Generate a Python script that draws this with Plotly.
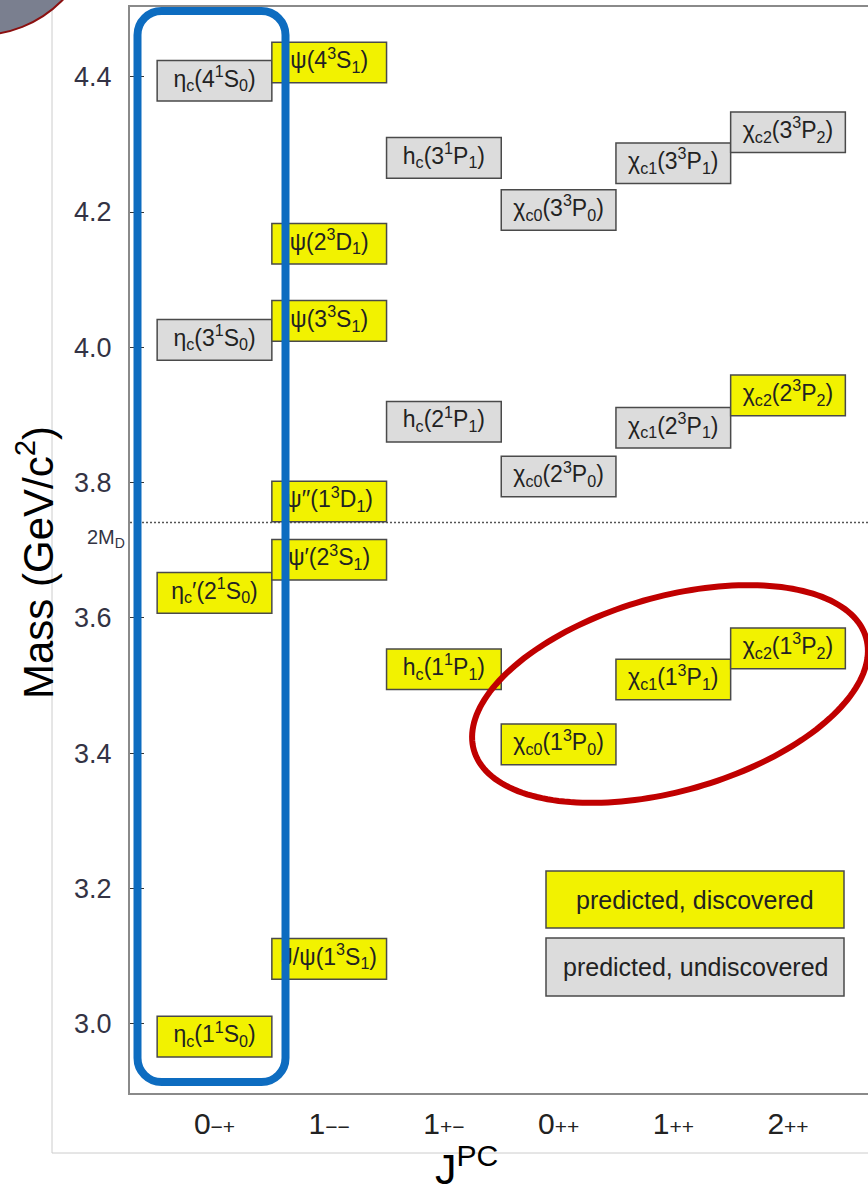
import numpy as np
import plotly.graph_objects as go

# ---------------- data ----------------
jpc_labels = [
    "0<span style='font-size:21px'>−+</span>",
    "1<span style='font-size:21px'>−−</span>",
    "1<span style='font-size:21px'>+−</span>",
    "0<span style='font-size:21px'>++</span>",
    "1<span style='font-size:21px'>++</span>",
    "2<span style='font-size:21px'>++</span>",
]

state_labels = [
    "η<sub>c</sub>(1<sup>1</sup>S<sub>0</sub>)",
    "η<sub>c</sub>′(2<sup>1</sup>S<sub>0</sub>)",
    "η<sub>c</sub>(3<sup>1</sup>S<sub>0</sub>)",
    "η<sub>c</sub>(4<sup>1</sup>S<sub>0</sub>)",
    "J/ψ(1<sup>3</sup>S<sub>1</sub>)",
    "ψ′(2<sup>3</sup>S<sub>1</sub>)",
    "ψ′′(1<sup>3</sup>D<sub>1</sub>)",
    "ψ(3<sup>3</sup>S<sub>1</sub>)",
    "ψ(2<sup>3</sup>D<sub>1</sub>)",
    "ψ(4<sup>3</sup>S<sub>1</sub>)",
    "h<sub>c</sub>(1<sup>1</sup>P<sub>1</sub>)",
    "h<sub>c</sub>(2<sup>1</sup>P<sub>1</sub>)",
    "h<sub>c</sub>(3<sup>1</sup>P<sub>1</sub>)",
    "χ<sub>c0</sub>(1<sup>3</sup>P<sub>0</sub>)",
    "χ<sub>c0</sub>(2<sup>3</sup>P<sub>0</sub>)",
    "χ<sub>c0</sub>(3<sup>3</sup>P<sub>0</sub>)",
    "χ<sub>c1</sub>(1<sup>3</sup>P<sub>1</sub>)",
    "χ<sub>c1</sub>(2<sup>3</sup>P<sub>1</sub>)",
    "χ<sub>c1</sub>(3<sup>3</sup>P<sub>1</sub>)",
    "χ<sub>c2</sub>(1<sup>3</sup>P<sub>2</sub>)",
    "χ<sub>c2</sub>(2<sup>3</sup>P<sub>2</sub>)",
    "χ<sub>c2</sub>(3<sup>3</sup>P<sub>2</sub>)",
]
state_jpc = [0, 0, 0, 0, 1, 1, 1, 1, 1, 1, 2, 2, 2, 3, 3, 3, 4, 4, 4, 5, 5, 5]
state_mass = [2.981, 3.637, 4.011, 4.394,
              3.096, 3.686, 3.772, 4.039, 4.153, 4.421,
              3.524, 3.890, 4.280,
              3.413, 3.809, 4.203,
              3.509, 3.881, 4.272,
              3.555, 3.929, 4.318]
state_found = [True, True, False, False,
               True, True, True, True, True, True,
               True, False, False,
               True, False, False,
               True, False, False,
               True, True, False]

mass_ticks = [3.0, 3.2, 3.4, 3.6, 3.8, 4.0, 4.2, 4.4]
two_md = 3.741
legend_labels = ["predicted, discovered", "predicted, undiscovered"]

# ---------------- styling / geometry ----------------
W, H = 868, 1191
ML, MR, MT, MB = 130, 0, 7, 98
PW, PH = W - ML - MR, H - MT - MB
X0_PX, X_STEP = 214.5, 114.7          # pixel centre of column 0, column spacing
Y44_PX, Y_SCALE = 76.7, 676.5         # pixel of 4.4 GeV, px per GeV

xr = [(ML - X0_PX) / X_STEP, (W - MR - X0_PX) / X_STEP]
yr = [4.4 - (H - MB - Y44_PX) / Y_SCALE, 4.4 + (Y44_PX - MT) / Y_SCALE]


def dx(px):
    return (px - X0_PX) / X_STEP


def dy(py):
    return 4.4 - (py - Y44_PX) / Y_SCALE


def paper_x(px):
    return (px - ML) / PW


def paper_y(py):
    return (H - MB - py) / PH


YELLOW = "#f2f200"
GREY = "#dcdcdc"
EDGE = "#4a4a4a"
FONT = "Liberation Sans, Arial, sans-serif"
BOX_H = 0.06

fig = go.Figure()

fig.add_trace(go.Bar(
    x=state_jpc,
    y=[BOX_H] * len(state_mass),
    base=[m - BOX_H / 2 for m in state_mass],
    width=1.0,
    marker=dict(color=[YELLOW if f else GREY for f in state_found],
                line=dict(color=EDGE, width=1.5)),
    hoverinfo="skip",
    showlegend=False,
))

fig.add_trace(go.Scatter(
    x=state_jpc, y=state_mass, mode="text", text=state_labels,
    textposition="middle center",
    textfont=dict(family=FONT, size=23, color="#222222"),
    hoverinfo="skip", showlegend=False,
))

shapes = []
# outer slide frame lines
shapes.append(dict(type="line", xref="paper", yref="paper",
                   x0=paper_x(52), x1=paper_x(52), y0=paper_y(0), y1=paper_y(1153),
                   line=dict(color="#cccccc", width=1), layer="above"))
shapes.append(dict(type="line", xref="paper", yref="paper",
                   x0=paper_x(52), x1=paper_x(W), y0=paper_y(1153), y1=paper_y(1153),
                   line=dict(color="#cccccc", width=1), layer="above"))
# corner decoration circle
shapes.append(dict(type="circle", xref="paper", yref="paper",
                   x0=paper_x(-135), x1=paper_x(95), y0=paper_y(-195), y1=paper_y(35),
                   fillcolor="#7a7f8f", line=dict(color="#8b1010", width=2), layer="above"))
# 2M_D threshold line
shapes.append(dict(type="line", xref="paper", yref="y",
                   x0=0, x1=1, y0=two_md, y1=two_md,
                   line=dict(color="#555555", width=1.3, dash="2px,2px"), layer="below"))

# legend boxes
leg_rows = [(871, 928, YELLOW), (938, 996, GREY)]
annotations = []
for (t, b, c), lab in zip(leg_rows, legend_labels):
    shapes.append(dict(type="rect", xref="x", yref="y",
                       x0=dx(546), x1=dx(844), y0=dy(b), y1=dy(t),
                       fillcolor=c, line=dict(color=EDGE, width=1.5), layer="below"))
    annotations.append(dict(xref="x", yref="y", x=dx(695), y=dy((t + b) / 2),
                            xanchor="center", yanchor="middle",
                            text=lab, showarrow=False,
                            font=dict(family=FONT, size=25, color="#222222")))

# blue rounded rectangle (pixel geometry -> data)
bl, br, bt, bb, rr = 137.5, 285.5, 11, 1082, 24
k = 0.5523 * rr
pts = [
    ("M", [(bl + rr, bt)]),
    ("L", [(br - rr, bt)]),
    ("C", [(br - rr + k, bt), (br, bt + rr - k), (br, bt + rr)]),
    ("L", [(br, bb - rr)]),
    ("C", [(br, bb - rr + k), (br - rr + k, bb), (br - rr, bb)]),
    ("L", [(bl + rr, bb)]),
    ("C", [(bl + rr - k, bb), (bl, bb - rr + k), (bl, bb - rr)]),
    ("L", [(bl, bt + rr)]),
    ("C", [(bl, bt + rr - k), (bl + rr - k, bt), (bl + rr, bt)]),
]
path = ""
for cmd, ps in pts:
    path += cmd + " ".join(f"{dx(px):.5f},{dy(py):.5f}" for px, py in ps) + " "
path += "Z"
shapes.append(dict(type="path", xref="x", yref="y", path=path,
                   line=dict(color="#0d6cc0", width=8), layer="above"))

# red ellipse
cx, cy, ea, eb, th = 670, 694, 204, 97, np.deg2rad(16)
t = np.linspace(0, 2 * np.pi, 181)
epx = cx + ea * np.cos(t) * np.cos(th) - eb * np.sin(t) * np.sin(th)
epy = cy - (ea * np.cos(t) * np.sin(th) + eb * np.sin(t) * np.cos(th))
epath = "M" + " L".join(f"{dx(a):.5f},{dy(b):.5f}" for a, b in zip(epx, epy)) + " Z"
shapes.append(dict(type="path", xref="x", yref="y", path=epath,
                   line=dict(color="#c00000", width=6), layer="above"))

# text annotations
annotations.append(dict(xref="paper", yref="y", x=paper_x(127), y=3.718,
                        xanchor="right", yanchor="middle", text="2M<sub>D</sub>",
                        showarrow=False, font=dict(family=FONT, size=20, color="#333344")))
annotations.append(dict(xref="paper", yref="paper", x=paper_x(35), y=paper_y(563),
                        xanchor="center", yanchor="middle",
                        text="Mass (GeV/c<sup>2</sup>)", textangle=-90, showarrow=False,
                        font=dict(family=FONT, size=42, color="#000000")))
annotations.append(dict(xref="paper", yref="paper", x=paper_x(466), y=paper_y(1166),
                        xanchor="center", yanchor="middle",
                        text="J<sup>PC</sup>", showarrow=False,
                        font=dict(family=FONT, size=43, color="#000000")))

fig.update_layout(
    width=W, height=H,
    margin=dict(l=ML, r=MR, t=MT, b=MB, pad=0),
    paper_bgcolor="white", plot_bgcolor="white",
    showlegend=False,
    shapes=shapes, annotations=annotations,
    xaxis=dict(range=xr, tickvals=list(range(6)), ticktext=jpc_labels,
               showgrid=False, zeroline=False, ticks="",
               showline=True, linecolor="#8a8a8a", linewidth=2, mirror=True,
               tickfont=dict(family=FONT, size=30, color="#222222"),
               ticklabelstandoff=3),
    yaxis=dict(range=yr, tickvals=mass_ticks, ticktext=[f"{v:.1f}" for v in mass_ticks],
               showgrid=False, zeroline=False, ticks="inside", ticklen=14,
               tickcolor="#333333", tickwidth=1,
               showline=True, linecolor="#8a8a8a", linewidth=2, mirror=False,
               tickfont=dict(family=FONT, size=27, color="#333344"),
               ticklabelstandoff=11),
)

fig.write_html("out.html")
